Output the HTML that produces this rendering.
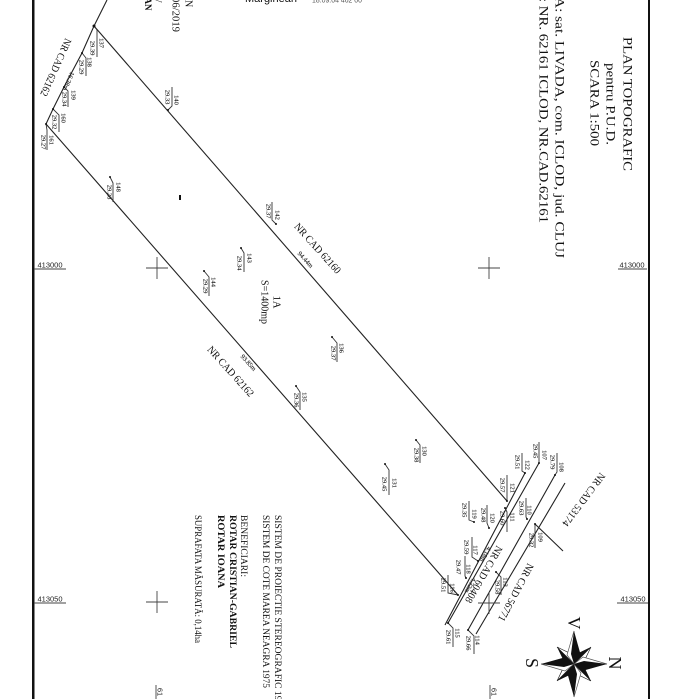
<!DOCTYPE html>
<html><head><meta charset="utf-8">
<style>
html,body{margin:0;padding:0;background:#fff}
svg{display:block;filter:blur(.3px)}
text{font-family:"Liberation Serif",serif;fill:#111;dominant-baseline:central}
.s{font-size:6.5px;text-anchor:middle;fill:#222;stroke:#222;stroke-width:.12}
.b{font-family:"Liberation Sans",sans-serif;font-size:7.5px;text-anchor:middle;fill:#222}
.m{font-size:10.5px;text-anchor:middle}
.h{font-size:13px}
.n{font-size:9.5px}
.l{stroke:#222;stroke-width:1.1;fill:none}
.t{stroke:#333;stroke-width:.9;fill:none}
.c{stroke:#444;stroke-width:.9;fill:none}
</style></head><body>
<svg xmlns="http://www.w3.org/2000/svg" width="700" height="699" viewBox="0 0 700 699">
<rect width="700" height="699" fill="#fff"/>
<rect x="32" y="0" width="2.5" height="699" fill="#111"/>
<rect x="648" y="0" width="2" height="699" fill="#111"/>

<!-- parcel -->
<path class="l" d="M107 0L94 26L82 53L64 87L53 109L46 124L458 595"/>
<path class="l" d="M94 26L507 501"/>
<path class="l" d="M445 625L525 473M448 623L539 463M468 630L555 475M476 634L565 483M535 524L563 551"/>

<!-- crosses -->
<path class="c" d="M146 268H168M157 257V279M478 268H500M489 257V279M146 602H168M157 591V613M478 603H500M489 592V614"/>
<!-- grid labels -->
<path class="c" d="M34 269H66M618 269H647M34 603H66M617 603H648M156 685V699M490 685V699"/>
<text class="b" x="50" y="265">413000</text>
<text class="b" x="632" y="265">413000</text>
<text class="b" x="50" y="599">413050</text>
<text class="b" x="633" y="599">413050</text>
<text class="b" transform="translate(160 692) rotate(90)">61</text>
<text class="b" transform="translate(494 692) rotate(90)">61</text>

<!-- top fragments -->
<text x="245" y="-1" style="font-family:'Liberation Sans',sans-serif;font-size:11px">Marginean</text>
<text x="312" y="1" style="font-family:'Liberation Sans',sans-serif;font-size:7px;fill:#555" textLength="50" lengthAdjust="spacingAndGlyphs">18.09.04 462 00</text>
<text transform="translate(188 0) rotate(90)" font-size="10">N</text>
<text transform="translate(175 -3) rotate(90)" font-size="10" textLength="35" lengthAdjust="spacingAndGlyphs">06/2019</text>
<text transform="translate(158 -3.500) rotate(90)" font-size="9">V</text>
<text transform="translate(148 -13) rotate(90)" font-size="9" font-weight="bold">IOAN</text>

<!-- title -->
<text class="h" transform="translate(628 37) rotate(90)" textLength="134" lengthAdjust="spacingAndGlyphs">PLAN TOPOGRAFIC</text>
<text class="h" transform="translate(611 63) rotate(90)" textLength="82" lengthAdjust="spacingAndGlyphs">pentru P.U.D.</text>
<text class="h" transform="translate(595 60) rotate(90)" textLength="86" lengthAdjust="spacingAndGlyphs">SCARA 1:500</text>
<text class="h" transform="translate(560 -3) rotate(90)" textLength="261" lengthAdjust="spacingAndGlyphs">A:  sat. LIVADA, com. ICLOD, jud. CLUJ</text>
<text class="h" transform="translate(544 -2) rotate(90)" textLength="225" lengthAdjust="spacingAndGlyphs">: NR. 62161 ICLOD, NR.CAD.62161</text>

<!-- notes -->
<text class="n" transform="translate(277 515) rotate(90)" textLength="195" lengthAdjust="spacingAndGlyphs">SISTEM DE PROIECTIE STEREOGRAFIC 1970</text>
<text class="n" transform="translate(265 515) rotate(90)" textLength="173" lengthAdjust="spacingAndGlyphs">SISTEM DE COTE MAREA NEAGRA 1975</text>
<text class="n" transform="translate(243 515) rotate(90)" textLength="62" lengthAdjust="spacingAndGlyphs">BENEFICIARI:</text>
<text class="n" font-weight="bold" transform="translate(232 515) rotate(90)" textLength="133" lengthAdjust="spacingAndGlyphs">ROTAR CRISTIAN-GABRIEL</text>
<text class="n" font-weight="bold" transform="translate(220 515) rotate(90)" textLength="73" lengthAdjust="spacingAndGlyphs">ROTAR IOANA</text>
<text class="n" transform="translate(197 515) rotate(90)" textLength="128" lengthAdjust="spacingAndGlyphs">SUPRAFATA MĂSURATĂ: 0,14ha</text>

<!-- parcel labels -->
<text class="m" transform="translate(276 302) rotate(90)">1A</text>
<text class="m" transform="translate(264 302) rotate(90)" textLength="44" lengthAdjust="spacingAndGlyphs">S=1400mp</text>
<text class="m" transform="translate(317 249) rotate(48)" textLength="64" lengthAdjust="spacingAndGlyphs">NR CAD 62160</text>
<text class="m" transform="translate(230 372) rotate(48)" textLength="64" lengthAdjust="spacingAndGlyphs">NR CAD 62162</text>
<text class="m" transform="translate(55 67) rotate(114)" textLength="62" lengthAdjust="spacingAndGlyphs">NR CAD 62162</text>
<text class="m" transform="translate(483 574) rotate(120)" textLength="64" lengthAdjust="spacingAndGlyphs">NR CAD 60408</text>
<text class="m" transform="translate(515 592) rotate(118)" textLength="64" lengthAdjust="spacingAndGlyphs">NR CAD 56771</text>
<text class="m" transform="translate(583 499) rotate(127)" textLength="64" lengthAdjust="spacingAndGlyphs">NR CAD 53174</text>
<text class="s" transform="translate(305 260) rotate(48)">94.44m</text>
<text class="s" transform="translate(248 363) rotate(48)">93.85m</text>
<text class="s" transform="translate(68 81) rotate(114)">16.38m</text>
<text class="s" transform="translate(485 554) rotate(120)">4.18m</text>
<text class="s" transform="translate(470 585) rotate(120)">4.32m</text>

<!-- point leaders -->
<path class="t" d="M94 26L97 30V57M82 53L86 58V76M64 87L68 91V107M53 109L59 115V132M46 124L47 130V150M168 110L172 106V87M110 177L113 183V202M276 224L272 220V202M241 248L244 253V272M204 271L209 277V296M332 337L337 343V362M296 386L300 392V410M416 440L420 445V463M385 464L389 470V495M539 463V442M555 475L557 472V453M525 473L522 471V453M507 501V475M505 508L507 512V532M527 519L526 517V498M535 524V548M474 522L469 520V501M489 528L487 523V505M478 561L472 557V537M466 578L465 576V556M458 595L448 593V575M448 623L453 628V647M468 630L474 636V654M496 572L501 577V595"/>
<path fill="#111" d="M92.500 26a1.500 1.500 0 1 0 3 0a1.500 1.500 0 1 0-3 0M81 53a1 1 0 1 0 2 0a1 1 0 1 0-2 0M63 87a1 1 0 1 0 2 0a1 1 0 1 0-2 0M52 109a1 1 0 1 0 2 0a1 1 0 1 0-2 0M45 124a1 1 0 1 0 2 0a1 1 0 1 0-2 0M167 110a1 1 0 1 0 2 0a1 1 0 1 0-2 0M109 177a1 1 0 1 0 2 0a1 1 0 1 0-2 0M275 224a1 1 0 1 0 2 0a1 1 0 1 0-2 0M240 248a1 1 0 1 0 2 0a1 1 0 1 0-2 0M203 271a1 1 0 1 0 2 0a1 1 0 1 0-2 0M331 337a1 1 0 1 0 2 0a1 1 0 1 0-2 0M295 386a1 1 0 1 0 2 0a1 1 0 1 0-2 0M415 440a1 1 0 1 0 2 0a1 1 0 1 0-2 0M384 464a1 1 0 1 0 2 0a1 1 0 1 0-2 0M538 463a1 1 0 1 0 2 0a1 1 0 1 0-2 0M554 475a1 1 0 1 0 2 0a1 1 0 1 0-2 0M524 473a1 1 0 1 0 2 0a1 1 0 1 0-2 0M506 501a1 1 0 1 0 2 0a1 1 0 1 0-2 0M504 508a1 1 0 1 0 2 0a1 1 0 1 0-2 0M526 519a1 1 0 1 0 2 0a1 1 0 1 0-2 0M534 524a1 1 0 1 0 2 0a1 1 0 1 0-2 0M473 522a1 1 0 1 0 2 0a1 1 0 1 0-2 0M488 528a1 1 0 1 0 2 0a1 1 0 1 0-2 0M477 561a1 1 0 1 0 2 0a1 1 0 1 0-2 0M465 578a1 1 0 1 0 2 0a1 1 0 1 0-2 0M457 595a1 1 0 1 0 2 0a1 1 0 1 0-2 0M447 623a1 1 0 1 0 2 0a1 1 0 1 0-2 0M467 630a1 1 0 1 0 2 0a1 1 0 1 0-2 0M495 572a1 1 0 1 0 2 0a1 1 0 1 0-2 0"/>
<rect x="179" y="195" width="2" height="5" fill="#111"/>

<!-- point text -->
<text class="s" transform="translate(101 43) rotate(90)">137</text><text class="s" transform="translate(92 48) rotate(90)">29.39</text>
<text class="s" transform="translate(89 62) rotate(90)">138</text><text class="s" transform="translate(81 67) rotate(90)">29.29</text>
<text class="s" transform="translate(73 95) rotate(90)">139</text><text class="s" transform="translate(64 99) rotate(90)">29.34</text>
<text class="s" transform="translate(63 118) rotate(90)">160</text><text class="s" transform="translate(54 122) rotate(90)">29.32</text>
<text class="s" transform="translate(51 140) rotate(90)">161</text><text class="s" transform="translate(43 142) rotate(90)">29.27</text>
<text class="s" transform="translate(176 100) rotate(90)">140</text><text class="s" transform="translate(167 97) rotate(90)">29.33</text>
<text class="s" transform="translate(118 187) rotate(90)">148</text><text class="s" transform="translate(109 192) rotate(90)">29.28</text>
<text class="s" transform="translate(277 215) rotate(90)">142</text><text class="s" transform="translate(268 211) rotate(90)">29.37</text>
<text class="s" transform="translate(249 258) rotate(90)">143</text><text class="s" transform="translate(239 263) rotate(90)">29.34</text>
<text class="s" transform="translate(213 282) rotate(90)">144</text><text class="s" transform="translate(205 286) rotate(90)">29.29</text>
<text class="s" transform="translate(341 348) rotate(90)">136</text><text class="s" transform="translate(333 353) rotate(90)">29.37</text>
<text class="s" transform="translate(304 397) rotate(90)">135</text><text class="s" transform="translate(296 400) rotate(90)">29.36</text>
<text class="s" transform="translate(424 451) rotate(90)">130</text><text class="s" transform="translate(416 455) rotate(90)">29.38</text>
<text class="s" transform="translate(394 483) rotate(90)">131</text><text class="s" transform="translate(384 484) rotate(90)">29.45</text>
<text class="s" transform="translate(544 455) rotate(90)">107</text><text class="s" transform="translate(535 451) rotate(90)">29.45</text>
<text class="s" transform="translate(561 467) rotate(90)">108</text><text class="s" transform="translate(552 462) rotate(90)">29.79</text>
<text class="s" transform="translate(527 465) rotate(90)">122</text><text class="s" transform="translate(517 462) rotate(90)">29.51</text>
<text class="s" transform="translate(512 488) rotate(90)">121</text><text class="s" transform="translate(502 485) rotate(90)">29.57</text>
<text class="s" transform="translate(512 517) rotate(90)">111</text><text class="s" transform="translate(502 518) rotate(90)">29.60</text>
<text class="s" transform="translate(529 510) rotate(90)">110</text><text class="s" transform="translate(521 508) rotate(90)">29.63</text>
<text class="s" transform="translate(540 537) rotate(90)">109</text><text class="s" transform="translate(531 540) rotate(90)">29.32</text>
<text class="s" transform="translate(474 514) rotate(90)">119</text><text class="s" transform="translate(464 510) rotate(90)">29.35</text>
<text class="s" transform="translate(492 518) rotate(90)">120</text><text class="s" transform="translate(483 515) rotate(90)">29.48</text>
<text class="s" transform="translate(475 550) rotate(90)">117</text><text class="s" transform="translate(466 547) rotate(90)">29.59</text>
<text class="s" transform="translate(468 569) rotate(90)">118</text><text class="s" transform="translate(458 567) rotate(90)">29.47</text>
<text class="s" transform="translate(452 588) rotate(90)">116</text><text class="s" transform="translate(443 585) rotate(90)">29.51</text>
<text class="s" transform="translate(457 633) rotate(90)">115</text><text class="s" transform="translate(448 637) rotate(90)">29.61</text>
<text class="s" transform="translate(477 640) rotate(90)">114</text><text class="s" transform="translate(468 643) rotate(90)">29.66</text>
<text class="s" transform="translate(505 582) rotate(90)">113</text><text class="s" transform="translate(497 587) rotate(90)">29.58</text>

<!-- compass -->
<g transform="translate(574 664)">
<g transform="rotate(45)"><path fill="#fff" stroke="#111" stroke-width=".6" d="M0-24L6-7L0 0Z"/><path fill="#111" d="M0-24L-6-7L0 0Z"/></g>
<g transform="rotate(135)"><path fill="#fff" stroke="#111" stroke-width=".6" d="M0-24L6-7L0 0Z"/><path fill="#111" d="M0-24L-6-7L0 0Z"/></g>
<g transform="rotate(225)"><path fill="#fff" stroke="#111" stroke-width=".6" d="M0-24L6-7L0 0Z"/><path fill="#111" d="M0-24L-6-7L0 0Z"/></g>
<g transform="rotate(315)"><path fill="#fff" stroke="#111" stroke-width=".6" d="M0-24L6-7L0 0Z"/><path fill="#111" d="M0-24L-6-7L0 0Z"/></g>
<g><path fill="#fff" stroke="#555" stroke-width=".7" d="M0-33L-7-9L0 0Z"/><path fill="#111" d="M0-33L7-8L0 0L-3-10Z"/></g>
<g transform="rotate(90)"><path fill="#fff" stroke="#555" stroke-width=".7" d="M0-33L-7-9L0 0Z"/><path fill="#111" d="M0-33L7-8L0 0L-3-10Z"/></g>
<g transform="rotate(180)"><path fill="#fff" stroke="#555" stroke-width=".7" d="M0-33L-7-9L0 0Z"/><path fill="#111" d="M0-33L7-8L0 0L-3-10Z"/></g>
<g transform="rotate(270)"><path fill="#fff" stroke="#555" stroke-width=".7" d="M0-33L-7-9L0 0Z"/><path fill="#111" d="M0-33L7-8L0 0L-3-10Z"/></g>
</g>
<text font-size="18" text-anchor="middle" transform="translate(574 623) rotate(90)">V</text>
<text font-size="18" text-anchor="middle" transform="translate(615 663) rotate(90)">N</text>
<text font-size="18" text-anchor="middle" transform="translate(532 663) rotate(90)">S</text>
</svg>
</body></html>
